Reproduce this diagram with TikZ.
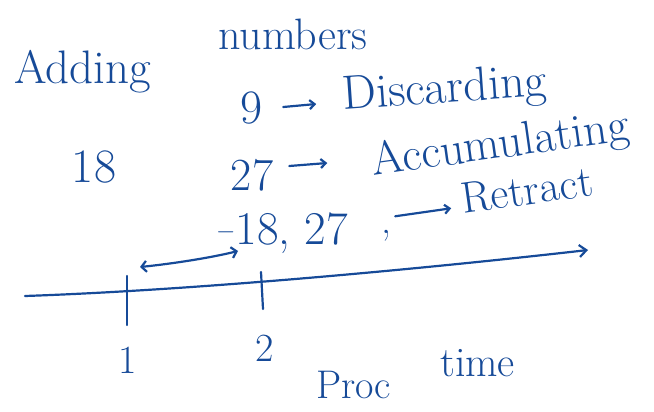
\documentclass[tikz,border=0pt]{standalone}
\usetikzlibrary{arrows.meta}
\definecolor{ink}{RGB}{22,74,152}
\begin{document}
\begin{tikzpicture}[x=1pt,y=-1pt,
  txt/.style={inner sep=0pt,text=ink},
  pen/.style={draw=ink,line width=2.2pt,line cap=round,line join=round},
  barb/.style={-{Straight Barb[length=7pt,width=12pt]}},
  smallbarb/.style={-{Straight Barb[length=5pt,width=9pt]}},
  fs/.style={font=\fontsize{#1}{#1}\selectfont}]
\useasboundingbox (0,0) rectangle (654,412);
\node[txt,fs=47,anchor=base west] (adding) at (14,84) {Adding};
\node[txt,fs=44,anchor=base west] (numbers) at (218,50) {numbers};
\node[txt,fs=48] (n9) at (252,108) {9};
\node[txt,fs=48,anchor=base west,rotate=4] (disc) at (343,110) {Discarding};
\node[txt,fs=48] (n18) at (94,167) {18};
\node[txt,fs=46] (n27) at (252,175) {27};
\node[txt,fs=47,anchor=base west,rotate=8] (acc) at (373,176) {Accumulating};
\node[txt,fs=47,anchor=base west] (neg) at (216,244) {\raisebox{0.25ex}{$-$}18, 27};
\node[txt,fs=40] (comma) at (386,236) {,};
\node[txt,fs=44,anchor=base west,rotate=8] (ret) at (463,214) {Retract};
\node[txt,fs=40] (one) at (128,360) {1};
\node[txt,fs=40] (two) at (265,348) {2};
\node[txt,fs=40,anchor=base west] (proc) at (316,398) {Proc};
\node[txt,fs=42,anchor=base west] (time) at (440,376) {time};
% arrows
\draw[pen,smallbarb] (n9.east) ++(20,-1) coordinate (a9s) (a9s) -- ++(33,-3) coordinate (a9e);
\draw[pen,smallbarb] (n27.east) ++(16,-9) coordinate (a27s) (a27s) -- ++(38,-3) coordinate (a27e);
\draw[pen,smallbarb] (comma.north east) ++(4,-14) coordinate (acs) (acs) -- ++(56,-8) coordinate (ace);
% timeline
\coordinate (tl0) at (25,296);
\coordinate (tl1) at (588,250);
\draw[pen,barb] (tl0) .. controls (200,290) and (430,268) .. (tl1);
\coordinate (t1a) at (127,276); \coordinate (t1b) at (127,325);
\coordinate (t2a) at (261,272); \coordinate (t2b) at (263,309);
\draw[pen] (t1a) -- (t1b);
\draw[pen] (t2a) -- (t2b);
\coordinate (da) at (140,267); \coordinate (db) at (238,251);
\draw[pen,{Straight Barb[length=5pt,width=11pt]}-{Straight Barb[length=5pt,width=11pt]}] (da) .. controls (170,264) and (210,258) .. (db);
\end{tikzpicture}
\end{document}
